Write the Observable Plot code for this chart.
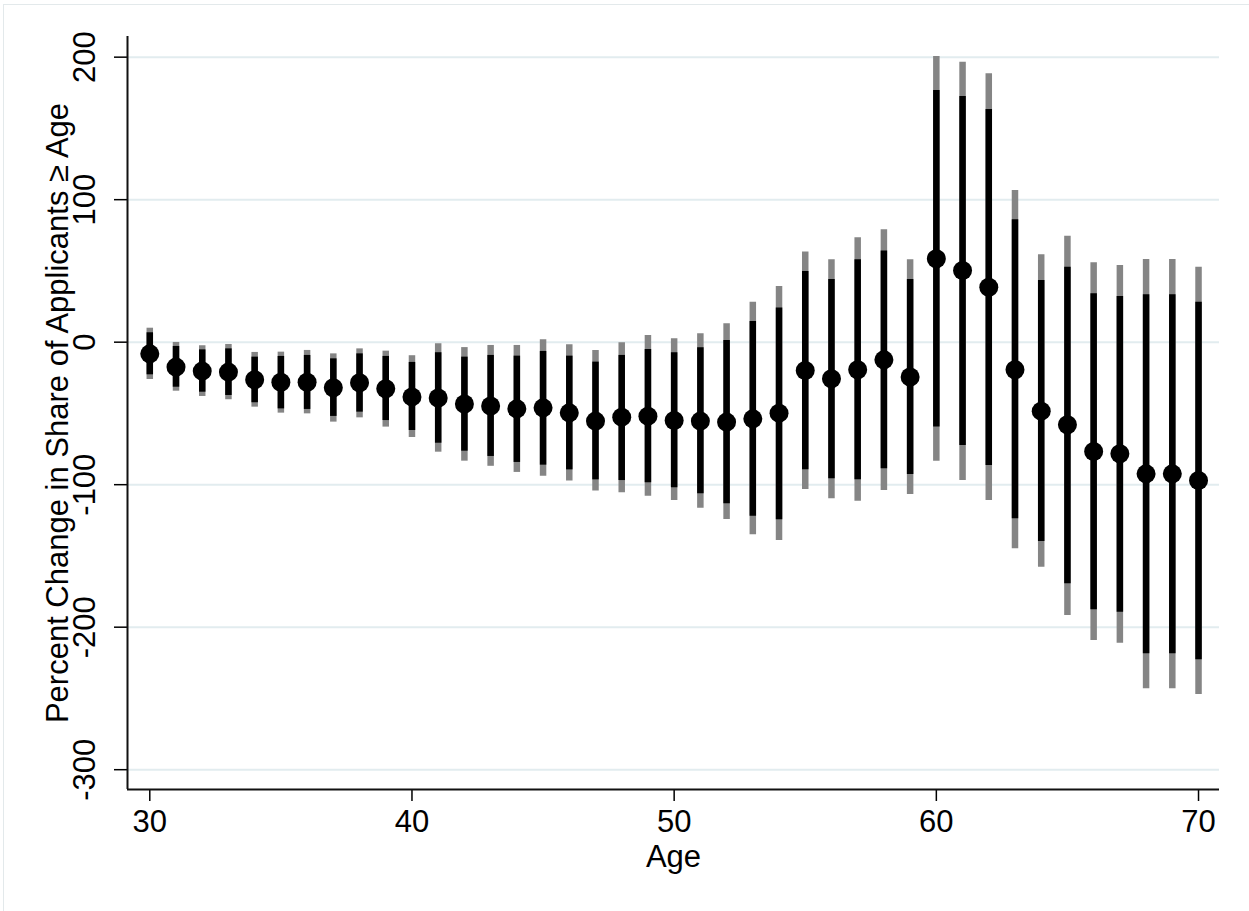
<!DOCTYPE html>
<html>
<head>
<meta charset="utf-8">
<script src="https://cdn.jsdelivr.net/npm/d3@7"></script>
<script src="https://cdn.jsdelivr.net/npm/@observablehq/plot@0.6"></script>
<style>
  html, body { margin: 0; padding: 0; background: #fff; }
  #wrap { position: relative; width: 1249px; height: 911px; overflow: hidden; }
  #border { position: absolute; left: 3px; top: 4px; width: 1300px; height: 1000px;
            border-top: 1px solid #e3e9eb; border-left: 1px solid #e3e9eb; pointer-events: none; }
  #chart { position: absolute; left: 0; top: 0; }
</style>
</head>
<body>
<div id="wrap"><div id="border"></div><div id="chart"></div></div>
<script>
const ages = [30,31,32,33,34,35,36,37,38,39,40,41,42,43,44,45,46,47,48,49,50,
              51,52,53,54,55,56,57,58,59,60,61,62,63,64,65,66,67,68,69,70];
const estimate = [-8.2,-17.5,-20.3,-21.0,-26.4,-28.1,-28.1,-32.0,-28.5,-32.7,-38.4,
                  -39.2,-43.4,-44.8,-46.8,-46.1,-49.6,-55.4,-52.6,-51.9,-54.9,
                  -55.4,-56.1,-53.8,-49.8,-19.9,-25.7,-19.3,-12.4,-24.5,58.5,
                  50.3,38.6,-19.4,-48.4,-58.0,-76.7,-78.3,-92.4,-92.4,-97.1];
const ci95Hi = [6.6,-3.0,-5.4,-4.7,-10.5,-10.0,-9.3,-11.7,-8.2,-10.0,-14.2,
                -7.4,-10.5,-9.3,-9.8,-6.5,-9.8,-14.0,-9.3,-5.1,-7.5,
                -4.0,1.2,14.5,23.9,49.6,44.0,57.8,63.9,44.0,176.6,
                172.4,163.3,85.9,43.3,52.6,34.0,32.1,33.2,33.2,28.1];
const ci95Lo = [-22.9,-31.6,-35.1,-37.4,-42.5,-46.8,-47.2,-52.1,-49.1,-55.0,-62.0,
                -70.9,-76.5,-80.2,-84.4,-86.3,-89.6,-96.6,-97.1,-98.7,-102.2,
                -106.4,-113.4,-122.1,-124.6,-89.6,-95.9,-96.6,-88.9,-92.8,-59.6,
                -72.5,-86.5,-123.9,-139.9,-169.6,-187.8,-189.5,-218.7,-218.7,-222.9];
const ci99Hi = [9.8,-0.2,-2.5,-1.6,-7.2,-7.0,-5.8,-8.2,-4.7,-6.3,-9.5,
                -1.1,-3.8,-2.3,-2.3,1.7,-1.8,-5.8,-0.4,4.7,2.4,
                5.9,12.9,28.1,39.1,63.2,57.8,73.3,78.9,57.8,200.5,
                196.5,188.3,106.5,61.3,74.4,55.7,53.8,58.0,58.0,52.6];
const ci99Lo = [-26.2,-34.4,-38.1,-40.4,-45.6,-49.8,-50.3,-56.1,-53.1,-59.6,-66.9,
                -77.2,-83.5,-87.1,-91.4,-94.0,-97.5,-104.5,-105.7,-108.1,-111.1,
                -116.5,-124.4,-135.2,-139.2,-103.4,-109.9,-111.6,-104.1,-106.9,-83.5,
                -97.1,-111.1,-145.0,-157.9,-191.8,-209.3,-211.2,-243.2,-243.2,-247.2];
const xTicks = [30, 40, 50, 60, 70];
const yTicks = [-300, -200, -100, 0, 100, 200];
const xTitle = "Age";
const yTitle = "Percent Change in Share of Applicants \u2265 Age";

const rows = ages.map((a, i) => ({
  age: a, est: estimate[i], hi95: ci95Hi[i], lo95: ci95Lo[i], hi99: ci99Hi[i], lo99: ci99Lo[i]
}));

const xDomain = [29.15, 70.8];
const yDomain = [-313.9, 214.5];
const plain = d => String(d);

const chart = Plot.plot({
  width: 1249,
  height: 911,
  marginLeft: 127,
  marginRight: 30,
  marginTop: 36,
  marginBottom: 122,
  style: { fontFamily: "'Liberation Sans', Arial, Helvetica, sans-serif", fontSize: "30px", color: "#000", background: "transparent", overflow: "visible" },
  x: { domain: xDomain },
  y: { domain: yDomain },
  marks: [
    Plot.gridY(yTicks, { stroke: "#e2ecef", strokeOpacity: 1, strokeWidth: 2 }),
    Plot.ruleX(rows, { x: "age", y1: "lo99", y2: "hi99", stroke: "#858585", strokeWidth: 6.5 }),
    Plot.ruleX(rows, { x: "age", y1: "lo95", y2: "hi95", stroke: "#000", strokeWidth: 6.5 }),
    Plot.dot(rows, { x: "age", y: "est", r: 9.5, fill: "#000", stroke: "none" }),
    Plot.axisX(xTicks, { tickSize: 12, tickPadding: 8, fontSize: 31, label: null, strokeWidth: 1.5, tickFormat: plain }),
    Plot.axisY(yTicks, { tickSize: 13, tickPadding: 20, tickRotate: -90, fontSize: 31, label: null, strokeWidth: 1.5, tickFormat: plain }),
    Plot.ruleX([xDomain[0]], { stroke: "#111", strokeWidth: 2 }),
    Plot.ruleY([yDomain[0]], { stroke: "#111", strokeWidth: 2 }),
    Plot.text([yTitle], { text: d => d, frameAnchor: "left", dx: -69.5, rotate: -90, fontSize: 31, textAnchor: "middle", lineAnchor: "middle", fill: "#000" }),
    Plot.text([xTitle], { text: d => d, frameAnchor: "bottom", dy: 68, fontSize: 31, textAnchor: "middle", lineAnchor: "middle", fill: "#000" })
  ]
});
document.getElementById("chart").appendChild(chart);
</script>
</body>
</html>
